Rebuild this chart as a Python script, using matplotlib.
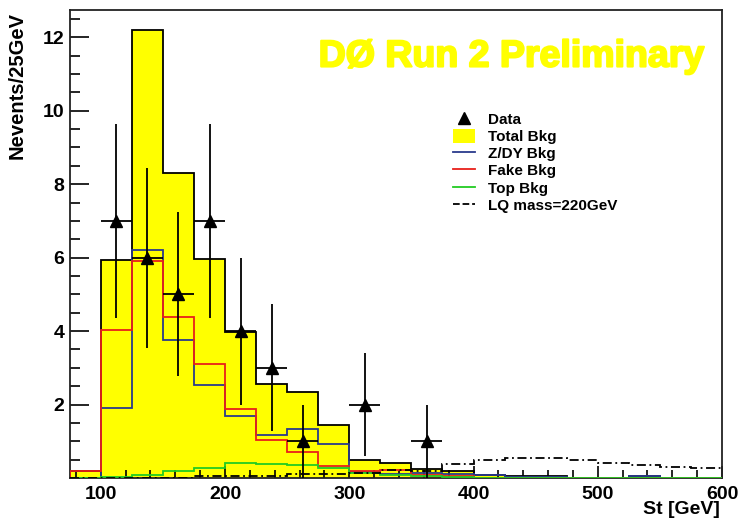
import numpy as np
import matplotlib.pyplot as plt
import matplotlib.patheffects as pe
from matplotlib.lines import Line2D
from matplotlib.patches import Patch
from matplotlib.ticker import MultipleLocator

plt.rcParams['font.family'] = ['Liberation Sans', 'DejaVu Sans']
plt.rcParams['font.weight'] = 'bold'

# Données (bins de 25 GeV, 75 -> 600)
edges = np.arange(75, 601, 25)

total_bkg = [0.19, 5.93, 12.2, 8.31, 5.97, 3.98, 2.56, 2.34, 1.45, 0.50, 0.41,
             0.25, 0.19, 0.08, 0.05, 0.05, 0.0, 0.0, 0.05, 0.0, 0.0]
zdy_bkg = [0.0, 1.90, 6.20, 3.76, 2.53, 1.70, 1.17, 1.34, 0.92, 0.17, 0.12,
           0.13, 0.10, 0.07, 0.04, 0.04, 0.0, 0.0, 0.05, 0.0, 0.0]
fake_bkg = [0.18, 4.03, 5.90, 4.39, 3.10, 1.88, 1.03, 0.71, 0.33, 0.20, 0.22,
            0.07, 0.05, 0.0, 0.0, 0.0, 0.0, 0.0, 0.0, 0.0, 0.0]
top_bkg = [0.01, 0.03, 0.09, 0.19, 0.27, 0.42, 0.39, 0.35, 0.27, 0.15, 0.08,
           0.05, 0.04, 0.01, 0.01, 0.0, 0.0, 0.0, 0.0, 0.0, 0.0]
lq_220 = [0.0, 0.0, 0.0, 0.0, 0.05, 0.05, 0.06, 0.10, 0.12, 0.15, 0.22,
          0.20, 0.38, 0.49, 0.54, 0.54, 0.49, 0.41, 0.36, 0.29, 0.27]

data_x = [112.5, 137.5, 162.5, 187.5, 212.5, 237.5, 262.5, 312.5, 362.5]
data_n = np.array([7, 6, 5, 7, 4, 3, 1, 2, 1])
data_err = np.sqrt(data_n)

# Graphique
fig = plt.figure(figsize=(7.42, 5.25), dpi=100)
ax = fig.add_axes([0.094, 0.0895, 0.879, 0.892])

ax.stairs(total_bkg, edges, fill=True, color='#ffff00', zorder=1)
ax.stairs(total_bkg, edges, color='black', lw=1.3, zorder=2)
ax.stairs(zdy_bkg, edges, color='#2a3a8c', lw=1.3, zorder=3)
ax.stairs(fake_bkg, edges, color='#e8201a', lw=1.3, zorder=3)
ax.stairs(top_bkg, edges, color='#22cc22', lw=1.3, zorder=3)
ax.stairs(lq_220, edges, color='black', lw=1.3, linestyle=(0, (5, 2, 1, 2)),
          baseline=None, zorder=4)

ax.errorbar(data_x, data_n, yerr=data_err, xerr=12.5, fmt='^', color='black',
            markersize=8, elinewidth=1.3, capsize=0, zorder=5)

ax.set_xlim(75, 600)
ax.set_ylim(0, 12.75)
ax.set_yticks([2, 4, 6, 8, 10, 12])
ax.xaxis.set_major_locator(MultipleLocator(100))
ax.xaxis.set_minor_locator(MultipleLocator(20))
ax.yaxis.set_minor_locator(MultipleLocator(0.5))
ax.tick_params(axis='both', which='both', direction='in', labelsize=14,
               top=False, right=False, width=1.2)
ax.tick_params(axis='y', which='major', length=14, pad=4)
ax.tick_params(axis='y', which='minor', length=7)
ax.tick_params(axis='x', which='major', length=9, pad=6)
ax.tick_params(axis='x', which='minor', length=5.5)
for s in ax.spines.values():
    s.set_linewidth(1.3)
    s.set_color('#222222')

fig.text(17 / 742, 1 - 12 / 525, 'Nevents/25GeV', rotation=90, ha='center',
         va='top', fontsize=14.5, fontweight='bold')
fig.text(720 / 742, 1 - 510 / 525, 'St [GeV]', ha='right', va='center',
         fontsize=14, fontweight='bold')

ax.text(0.677, 0.9, 'DØ Run 2 Preliminary', transform=ax.transAxes,
        ha='center', va='center', fontsize=27, fontweight='bold', color='#ffff00',
        path_effects=[pe.withStroke(linewidth=1.5, foreground='#ffff00')])

handles = [Line2D([], [], marker='^', color='black', linestyle='', markersize=8),
           Patch(facecolor='#ffff00', edgecolor='none'),
           Line2D([], [], color='#2a3a8c', lw=1.3),
           Line2D([], [], color='#e8201a', lw=1.3),
           Line2D([], [], color='#22cc22', lw=1.3),
           Line2D([], [], color='black', lw=1.3, linestyle='--')]
labels = ['Data', 'Total Bkg', 'Z/DY Bkg', 'Fake Bkg', 'Top Bkg', 'LQ mass=220GeV']
ax.legend(handles, labels, loc='upper left', bbox_to_anchor=(0.588, 0.782),
          frameon=False, fontsize=11, labelspacing=0.14, handlelength=1.4,
          handleheight=1.0, handletextpad=0.9, borderpad=0, borderaxespad=0)

fig.savefig('out.png', dpi=100)
